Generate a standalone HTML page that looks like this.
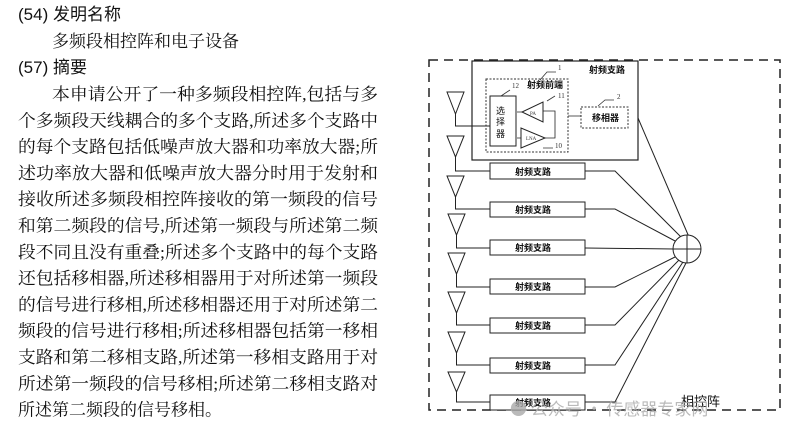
<!DOCTYPE html>
<html><head><meta charset="utf-8"><style>
html,body{margin:0;padding:0;background:#fff;width:797px;height:438px;overflow:hidden}
svg{display:block}
.h{font-family:"Liberation Sans","Noto Sans CJK SC",sans-serif;font-size:17px;fill:#111}
.b{font-family:"Liberation Serif","Noto Serif CJK SC","Noto Sans CJK SC",serif;font-size:17px;fill:#111}
.l{font-family:"Liberation Sans","Noto Sans CJK SC",sans-serif;font-size:9px;font-weight:bold;fill:#111}
</style></head><body>
<svg width="797" height="438" viewBox="0 0 797 438" xmlns="http://www.w3.org/2000/svg">
<text class="h" x="18" y="20">(54) 发明名称</text>
<text class="b" x="52" y="47">多频段相控阵和电子设备</text>
<text class="h" x="18" y="73">(57) 摘要</text>
<g class="b">
<text x="52" y="100" textLength="326" lengthAdjust="spacingAndGlyphs">本申请公开了一种多频段相控阵,包括与多</text>
<text x="18" y="126.3" textLength="360" lengthAdjust="spacingAndGlyphs">个多频段天线耦合的多个支路,所述多个支路中</text>
<text x="18" y="152.6" textLength="360" lengthAdjust="spacingAndGlyphs">的每个支路包括低噪声放大器和功率放大器;所</text>
<text x="18" y="178.9" textLength="360" lengthAdjust="spacingAndGlyphs">述功率放大器和低噪声放大器分时用于发射和</text>
<text x="18" y="205.2" textLength="360" lengthAdjust="spacingAndGlyphs">接收所述多频段相控阵接收的第一频段的信号</text>
<text x="18" y="231.5" textLength="360" lengthAdjust="spacingAndGlyphs">和第二频段的信号,所述第一频段与所述第二频</text>
<text x="18" y="257.8" textLength="360" lengthAdjust="spacingAndGlyphs">段不同且没有重叠;所述多个支路中的每个支路</text>
<text x="18" y="284.1" textLength="360" lengthAdjust="spacingAndGlyphs">还包括移相器,所述移相器用于对所述第一频段</text>
<text x="18" y="310.4" textLength="360" lengthAdjust="spacingAndGlyphs">的信号进行移相,所述移相器还用于对所述第二</text>
<text x="18" y="336.7" textLength="360" lengthAdjust="spacingAndGlyphs">频段的信号进行移相;所述移相器包括第一移相</text>
<text x="18" y="363" textLength="360" lengthAdjust="spacingAndGlyphs">支路和第二移相支路,所述第一移相支路用于对</text>
<text x="18" y="389.3" textLength="360" lengthAdjust="spacingAndGlyphs">所述第一频段的信号移相;所述第二移相支路对</text>
<text x="18" y="415.6">所述第二频段的信号移相。</text>
</g>
<rect x="429" y="60" width="351" height="350" fill="none" stroke="#222" stroke-width="1.5" stroke-dasharray="9,6"/>
<rect x="472" y="61" width="166" height="99" fill="#fff" stroke="#222" stroke-width="1.2"/>
<text class="l" x="589" y="73" font-size="11">射频支路</text>
<rect x="486" y="79" width="82" height="73" fill="none" stroke="#333" stroke-dasharray="2,1.5"/>
<text class="l" x="527" y="88" font-size="7">射频前端</text>
<text x="512" y="88" font-size="7" fill="#333" font-family="Liberation Serif">12</text>
<text x="558" y="70" font-size="7" fill="#333" font-family="Liberation Serif">1</text>
<text x="558" y="98" font-size="7" fill="#333" font-family="Liberation Serif">11</text>
<text x="555" y="148" font-size="7" fill="#333" font-family="Liberation Serif">10</text>
<text x="617" y="99" font-size="7" fill="#333" font-family="Liberation Serif">2</text>
<path d="M540,80 L547,72 L556,72 M501,96 L510,90 M547,101 L555,96 M543,148 L553,148 M598,106 L605,100 L614,100" fill="none" stroke="#333" stroke-width="0.8"/>
<rect x="490" y="96" width="26" height="50" fill="#fff" stroke="#222"/>
<text x="496" y="114" font-size="9" fill="#111" font-family="Noto Sans CJK SC,sans-serif">选</text>
<text x="496" y="125" font-size="9" fill="#111" font-family="Noto Sans CJK SC,sans-serif">择</text>
<text x="496" y="137" font-size="9" fill="#111" font-family="Noto Sans CJK SC,sans-serif">器</text>
<path d="M543,102 L543,122 L522,112 Z M521,128 L521,148 L545,138 Z" fill="#fff" stroke="#222"/>
<text x="530" y="115" font-size="5" fill="#333">PA</text>
<text x="526" y="140" font-size="5" fill="#333">LNA</text>
<path d="M522,112 L517,112 M545,138 L555,138 L555,111 L543,111 M517,138 L521,138 M568,116 L581,116" fill="none" stroke="#222" stroke-width="0.8"/>
<rect x="581" y="107" width="47" height="21" fill="#fff" stroke="#333" stroke-dasharray="2,1.5"/>
<text class="l" x="592" y="121" font-size="8.5">移相器</text>
<g fill="none" stroke="#222" stroke-width="1">
<path d="M447,92 L464,92 L455.5,114 Z M455.5,114 L455.5,126 L490,126"/>
<path d="M447,136 L464,136 L455.5,157 Z M455.5,157 L455.5,171 L490,171"/>
<path d="M447,176 L464,176 L455.5,197 Z M455.5,197 L455.5,209 L490,209"/>
<path d="M448,214 L465,214 L456.5,235 Z M456.5,235 L456.5,248 L490,248"/>
<path d="M448,253 L465,253 L456.5,274 Z M456.5,274 L456.5,287 L490,287"/>
<path d="M448,292 L465,292 L456.5,313 Z M456.5,313 L456.5,325 L490,325"/>
<path d="M448,332 L465,332 L456.5,353 Z M456.5,353 L456.5,365 L490,365"/>
<path d="M448,372 L465,372 L456.5,392 Z M456.5,392 L456.5,402 L490,402"/>
<path d="M638,118 L689,237"/>
<path d="M585,171 L615,171 L682,238"/>
<path d="M585,209 L615,209 L677,242"/>
<path d="M585,248 L674,249"/>
<path d="M585,287 L615,287 L677,256"/>
<path d="M585,325 L615,325 L680,259"/>
<path d="M585,365 L615,365 L683,262"/>
<path d="M585,402 L615,402 L686,263"/>
<circle cx="687" cy="249" r="14" fill="#fff"/>
<path d="M673,249 L701,249 M687,235 L687,263"/>
</g>
<g>
<rect x="490" y="163" width="95" height="16" fill="#fff" stroke="#222"/>
<rect x="490" y="202" width="95" height="15" fill="#fff" stroke="#222"/>
<rect x="490" y="240" width="95" height="15" fill="#fff" stroke="#222"/>
<rect x="490" y="279" width="95" height="15" fill="#fff" stroke="#222"/>
<rect x="490" y="318" width="95" height="15" fill="#fff" stroke="#222"/>
<rect x="490" y="358" width="95" height="15" fill="#fff" stroke="#222"/>
<rect x="490" y="395" width="95" height="15" fill="#fff" stroke="#222"/>
</g>
<g class="l" font-size="10">
<text x="515" y="175">射频支路</text>
<text x="515" y="213">射频支路</text>
<text x="515" y="251">射频支路</text>
<text x="515" y="290">射频支路</text>
<text x="515" y="329">射频支路</text>
<text x="515" y="369">射频支路</text>
<text x="515" y="406">射频支路</text>
</g>
<text x="681" y="406" font-size="13" fill="#111" font-family="Noto Sans CJK SC,sans-serif">相控阵</text>
<text x="510" y="415" font-size="17" fill="#aaa" opacity="0.8" font-family="Noto Sans CJK SC,sans-serif">● 公众号 · 传感器专家网</text>
</svg>
</body></html>
